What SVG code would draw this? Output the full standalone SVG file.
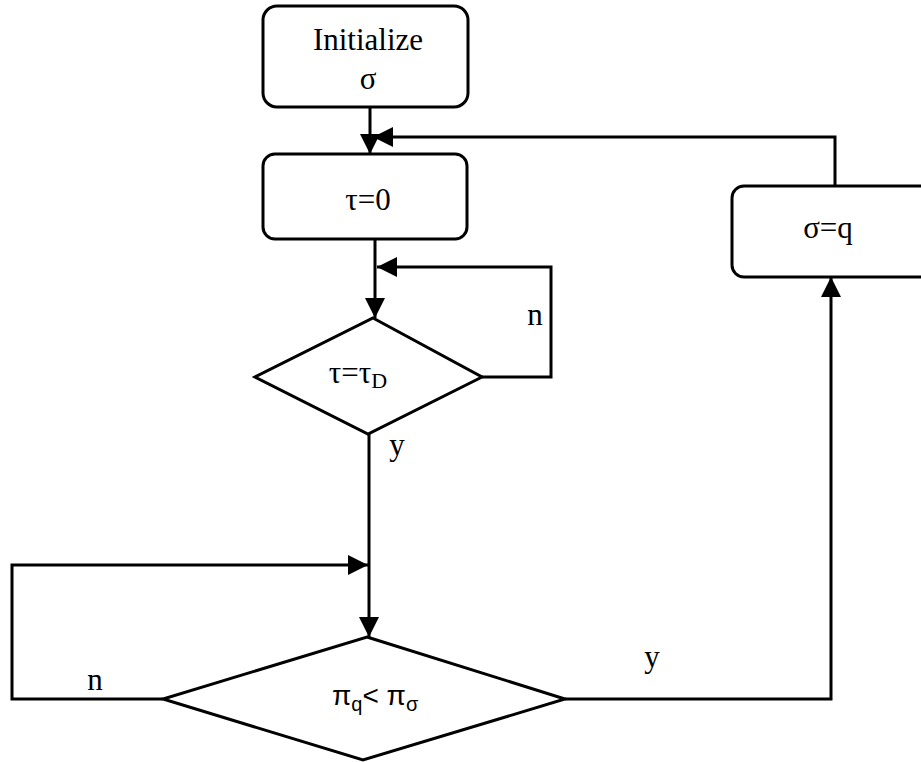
<svg xmlns="http://www.w3.org/2000/svg" width="921" height="762" viewBox="0 0 921 762">
<style>
.box{fill:#fff;stroke:#000;stroke-width:3}
.ln{fill:none;stroke:#000;stroke-width:3}
.t{font-family:"Liberation Serif","Times New Roman",serif;font-size:31px;fill:#000}
.s{font-family:"Liberation Sans",Arial,sans-serif;font-size:28px;fill:#000}
</style>
<defs>
<marker id="ah" viewBox="0 0 20 20" refX="20" refY="10" markerWidth="20" markerHeight="20" markerUnits="userSpaceOnUse" orient="auto">
<path d="M0,0 L20,10 L0,20 Z" fill="#000"/>
</marker>
</defs>
<rect width="921" height="762" fill="#fff"/>
<g id="connectors">
<path class="ln" d="M370,107 V154" marker-end="url(#ah)"/>
<path class="ln" d="M835,186 V137 H373" marker-end="url(#ah)"/>
<path class="ln" d="M375,239 V318" marker-end="url(#ah)"/>
<path class="ln" d="M482,377 H551 V267 H377" marker-end="url(#ah)"/>
<path class="ln" d="M369,434 V637" marker-end="url(#ah)"/>
<path class="ln" d="M163,699 H12 V565 H368" marker-end="url(#ah)"/>
<path class="ln" d="M565,699 H831 V277" marker-end="url(#ah)"/>
</g>
<g id="init">
<rect class="box" x="263" y="6" width="205" height="101" rx="14"/>
<text class="t" x="368" y="50" text-anchor="middle">Initialize</text>
<text class="t" x="368" y="89" text-anchor="middle">σ</text>
</g>
<g id="tau0">
<rect class="box" x="263" y="154" width="204" height="85" rx="12"/>
<text class="t" x="368" y="210" text-anchor="middle">τ=0</text>
</g>
<g id="check-tau">
<polygon class="box" points="373,318 482,377 368,434 255,377"/>
<text class="t" x="358" y="383" text-anchor="middle">τ=τ<tspan font-size="22" dy="5">D</tspan></text>
</g>
<g id="compare">
<polygon class="box" points="367,637 565,699 363,760 163,699"/>
<text class="s" x="332" y="705">π<tspan font-size="20" dy="6">q</tspan><tspan dy="-6">&lt; π</tspan><tspan font-size="20" dy="6">σ</tspan></text>
</g>
<g id="assign">
<rect class="box" x="732" y="186" width="200" height="91" rx="12"/>
<text class="t" x="828" y="238" text-anchor="middle">σ=q</text>
</g>
<g id="labels">
<text class="t" x="535" y="325" text-anchor="middle">n</text>
<text class="t" x="397" y="455" text-anchor="middle">y</text>
<text class="t" x="95" y="690" text-anchor="middle">n</text>
<text class="t" x="652" y="667" text-anchor="middle">y</text>
</g>
</svg>
